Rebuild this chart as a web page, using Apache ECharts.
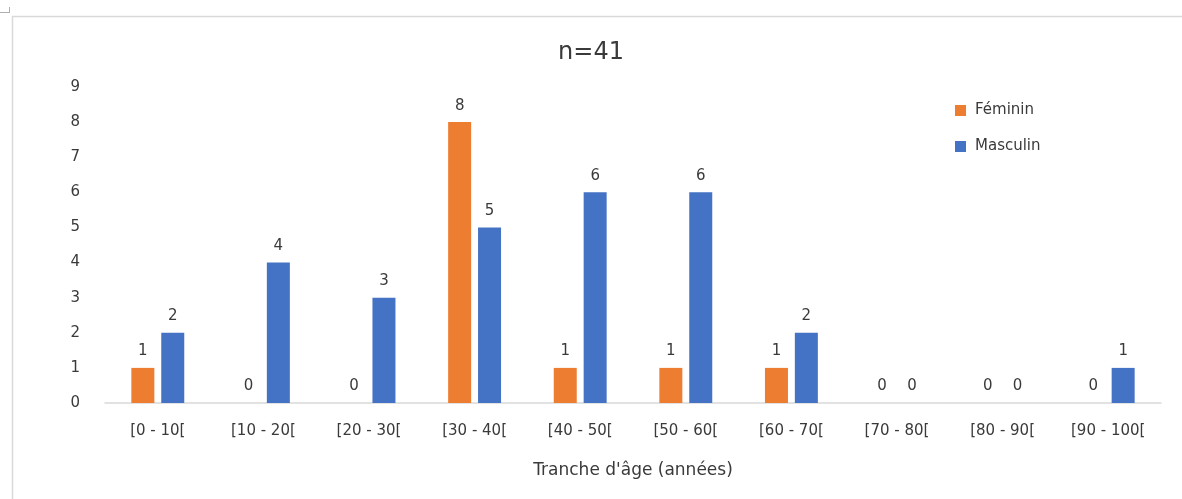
<!DOCTYPE html>
<html>
<head>
<meta charset="utf-8">
<script src="https://cdn.jsdelivr.net/npm/echarts@6/dist/echarts.min.js"></script>
<style>
  html, body { margin: 0; padding: 0; background: #fff; }
  #chart { width: 1182px; height: 499px; }
</style>
</head>
<body>
<div id="chart"></div>
<script>
// Age brackets and counts per sex
const categories = ['[0 - 10[', '[10 - 20[', '[20 - 30[', '[30 - 40[', '[40 - 50[', '[50 - 60[', '[60 - 70[', '[70 - 80[', '[80 - 90[', '[90 - 100['];
const feminin = [1, 0, 0, 8, 1, 1, 1, 0, 0, 0];
const masculin = [2, 4, 3, 5, 6, 6, 2, 0, 0, 1];
const seriesNames = ['Féminin', 'Masculin'];
const titleText = 'n=41';
const xAxisName = "Tranche d'âge (années)";

const FONT = 'DejaVu Sans';
const TEXT = '#3a3a3a';

const chart = echarts.init(document.getElementById('chart'), null, { renderer: 'canvas' });

const labelStyle = {
  show: true,
  position: 'top',
  distance: 9,
  color: TEXT,
  fontSize: 15,
  fontFamily: FONT
};

chart.setOption({
  backgroundColor: '#ffffff',
  animation: false,
  title: {
    text: titleText,
    left: 'center',
    top: 36,
    textStyle: { color: '#3a3a3a', fontSize: 24, fontWeight: 'normal', fontFamily: FONT }
  },
  legend: {
    orient: 'vertical',
    left: 950,
    top: 98,
    itemWidth: 11,
    itemHeight: 11,
    itemGap: 21,
    icon: 'rect',
    textStyle: { color: TEXT, fontSize: 15, fontFamily: FONT, padding: [0, 0, 0, 4] },
    data: seriesNames
  },
  grid: { left: 105, right: 21, top: 87, bottom: 96, containLabel: false },
  xAxis: {
    type: 'category',
    data: categories,
    name: xAxisName,
    nameLocation: 'middle',
    nameGap: 59,
    nameTextStyle: { color: TEXT, fontSize: 17, fontFamily: FONT },
    axisLine: { lineStyle: { color: '#d9d9d9', width: 1.5 } },
    axisTick: { show: false },
    axisLabel: { color: TEXT, fontSize: 15, fontFamily: FONT, margin: 21, interval: 0 }
  },
  yAxis: {
    type: 'value',
    min: 0,
    max: 9,
    interval: 1,
    axisLine: { show: false },
    axisTick: { show: false },
    splitLine: { show: false },
    axisLabel: { color: TEXT, fontSize: 15, fontFamily: FONT, margin: 25 }
  },
  series: [
    {
      name: seriesNames[0],
      type: 'bar',
      data: feminin,
      barWidth: 23,
      barGap: '30%',
      itemStyle: { color: '#ed7d31' },
      label: labelStyle
    },
    {
      name: seriesNames[1],
      type: 'bar',
      data: masculin,
      barWidth: 23,
      itemStyle: { color: '#4472c4' },
      label: labelStyle
    }
  ],
  graphic: [
    // frame edges around the chart area
    { type: 'line', shape: { x1: 12, y1: 16.5, x2: 1182, y2: 16.5 }, style: { stroke: '#d9d9d9', lineWidth: 1.5 } },
    { type: 'line', shape: { x1: 12.5, y1: 16, x2: 12.5, y2: 499 }, style: { stroke: '#d9d9d9', lineWidth: 1.5 } },
    { type: 'line', shape: { x1: 0, y1: 12.5, x2: 9, y2: 12.5 }, style: { stroke: '#b0b0b0', lineWidth: 1 } },
    { type: 'line', shape: { x1: 9.5, y1: 7, x2: 9.5, y2: 13 }, style: { stroke: '#b0b0b0', lineWidth: 1 } }
  ]
});
</script>
</body>
</html>
